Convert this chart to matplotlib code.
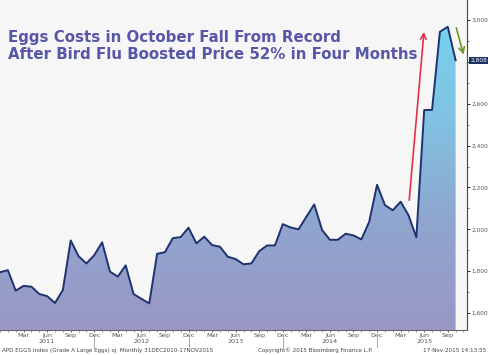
import numpy as np
import matplotlib.pyplot as plt
from matplotlib.colors import LinearSegmentedColormap

# monthly values, Dec 2010 .. Oct 2015
months = ['Dec 2010', 'Jan 2011', 'Feb 2011', 'Mar 2011', 'Apr 2011', 'May 2011', 'Jun 2011',
          'Jul 2011', 'Aug 2011', 'Sep 2011', 'Oct 2011', 'Nov 2011', 'Dec 2011',
          'Jan 2012', 'Feb 2012', 'Mar 2012', 'Apr 2012', 'May 2012', 'Jun 2012',
          'Jul 2012', 'Aug 2012', 'Sep 2012', 'Oct 2012', 'Nov 2012', 'Dec 2012',
          'Jan 2013', 'Feb 2013', 'Mar 2013', 'Apr 2013', 'May 2013', 'Jun 2013',
          'Jul 2013', 'Aug 2013', 'Sep 2013', 'Oct 2013', 'Nov 2013', 'Dec 2013',
          'Jan 2014', 'Feb 2014', 'Mar 2014', 'Apr 2014', 'May 2014', 'Jun 2014',
          'Jul 2014', 'Aug 2014', 'Sep 2014', 'Oct 2014', 'Nov 2014', 'Dec 2014',
          'Jan 2015', 'Feb 2015', 'Mar 2015', 'Apr 2015', 'May 2015', 'Jun 2015',
          'Jul 2015', 'Aug 2015', 'Sep 2015', 'Oct 2015']
prices = [1795, 1805, 1707, 1730, 1726, 1691, 1681, 1648, 1710, 1947, 1872, 1837, 1877,
          1938, 1798, 1774, 1828, 1691, 1668, 1646, 1883, 1891, 1958, 1963, 2008,
          1933, 1965, 1925, 1917, 1869, 1858, 1833, 1837, 1896, 1923, 1923, 2025,
          2009, 2000, 2060, 2119, 1997, 1950, 1950, 1979, 1971, 1952, 2036, 2213,
          2116, 2091, 2132, 2068, 1962, 2570, 2571, 2944, 2968, 2808]

xtick_pos = list(range(3, 59, 3))
xtick_lab = (['Mar', 'Jun', 'Sep', 'Dec'] * 5)[:len(xtick_pos)]
years = ['2011', '2012', '2013', '2014', '2015']
yticks = [1600, 1800, 2000, 2200, 2400, 2600, 2800, 3000]
last_label = '2,808'

title_color = '#5657a8'
x = np.arange(len(prices))
y = np.array(prices)

fig = plt.figure(figsize=(4.88, 3.55), dpi=100)
fig.patch.set_facecolor('white')
ax = fig.add_axes([0, 25 / 355, 467 / 488, 330 / 355])
ax.set_facecolor('#f6f6f6')
ax.set_xlim(0, 59.45)
ax.set_ylim(1519, 3096)

# gradient fill under the line
cmap = LinearSegmentedColormap.from_list('g', ['#9a97c4', '#8fa6cf', '#80c4e3', '#72d5f0'])
grad = np.linspace(0, 1, 256).reshape(-1, 1)
poly = ax.fill_between(x, y, 1519, color='none')
img = ax.imshow(grad, cmap=cmap, origin='lower', aspect='auto',
                extent=[0, 59.45, 1519, 3096], zorder=1)
img.set_clip_path(poly.get_paths()[0], transform=ax.transData)
ax.plot(x, y, color='#1f3270', lw=1.4, zorder=3)

# right axis (2,800 hidden behind the last-value box)
ax.yaxis.tick_right()
ax.set_yticks(yticks)
ax.set_yticklabels(['' if v == 2800 else f'{v:,}' for v in yticks],
                   fontsize=4.2, color='#555555')
ax.set_yticks(range(1600, 3100, 100), minor=True)
ax.tick_params(axis='y', which='major', length=2.5, width=0.8, color='#333333', pad=1)
ax.tick_params(axis='y', which='minor', length=1.5, width=0.6, color='#555555')

# bottom axis
ax.set_xticks(xtick_pos)
ax.set_xticklabels(xtick_lab, fontsize=4.6, color='#555555')
ax.set_xticks(range(0, 60), minor=True)
ax.tick_params(axis='x', which='major', length=1.5, width=0.6, color='#555555', pad=0.8)
ax.tick_params(axis='x', which='minor', length=1.2, width=0.5, color='#777777')
for i, yr in enumerate(years):
    ax.text(6 + 12 * i, -0.028, yr, transform=ax.get_xaxis_transform(),
            ha='center', va='top', fontsize=4.6, color='#555555')
for i in range(4):
    ax.plot([12 + 12 * i] * 2, [-0.021, -0.052], transform=ax.get_xaxis_transform(),
            color='#999999', lw=0.6, clip_on=False)

for s in ['top', 'left']:
    ax.spines[s].set_visible(False)
ax.spines['right'].set_color('#444444')
ax.spines['bottom'].set_color('#666666')
ax.spines['right'].set_linewidth(0.8)

# last value box
ax.annotate(last_label, xy=(1.0, prices[-1]), xycoords=('axes fraction', 'data'),
            xytext=(2.5, 0), textcoords='offset points', ha='left', va='center',
            fontsize=4.2, color='white',
            bbox=dict(boxstyle='square,pad=0.2', fc='#1c3066', ec='none'))

# arrows
ax.annotate('', xy=(54.0, 2957), xytext=(52.06, 2126),
            arrowprops=dict(arrowstyle='->', color='#e0324e', lw=1.2,
                            mutation_scale=10), zorder=5)
ax.annotate('', xy=(59.1, 2822), xytext=(58.0, 2976),
            arrowprops=dict(arrowstyle='->', color='#6f9a22', lw=1.2,
                            mutation_scale=10), annotation_clip=False, zorder=5)

# title
fig.text(8 / 488, 1 - 42 / 355, 'Eggs Costs in October Fall From Record',
         fontsize=10.8, fontweight='bold', color=title_color, ha='left', va='baseline')
fig.text(8 / 488, 1 - 59 / 355, 'After Bird Flu Boosted Price 52% in Four Months',
         fontsize=10.8, fontweight='bold', color=title_color, ha='left', va='baseline')

# footer
fig.text(2 / 488, 1 - 352 / 355, 'APD EGGS Index (Grade A Large Eggs) oj  Monthly 31DEC2010-17NOV2015',
         fontsize=4.1, color='#444444', ha='left', va='baseline')
fig.text(258 / 488, 1 - 352 / 355, 'Copyright\u00a9 2015 Bloomberg Finance L.P.',
         fontsize=4.1, color='#444444', ha='left', va='baseline')
fig.text(486 / 488, 1 - 352 / 355, '17-Nov-2015 14:13:55',
         fontsize=4.1, color='#444444', ha='right', va='baseline')

fig.savefig('out.png', dpi=100)
